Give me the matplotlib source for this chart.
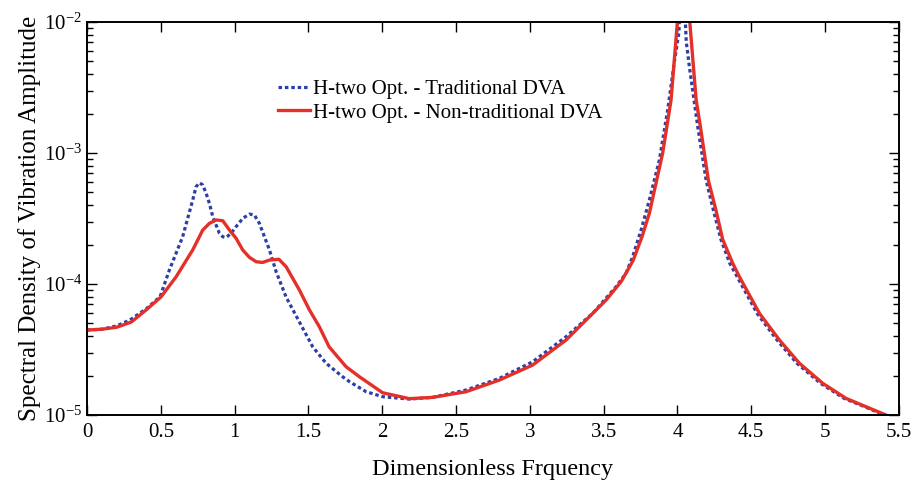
import numpy as np
import matplotlib
matplotlib.use("Agg")
from matplotlib import pyplot as plt
from matplotlib.ticker import LogLocator

plt.rcParams['font.family'] = ['Liberation Serif', 'DejaVu Serif']
plt.rcParams['mathtext.fontset'] = 'stix'

# H-two optimised, traditional DVA (log10 of amplitude)
freq_trad = [0.00, 0.10, 0.20, 0.29, 0.40, 0.495, 0.558, 0.648, 0.716, 0.739,
             0.762, 0.784, 0.807, 0.829, 0.852, 0.897, 0.92, 0.942, 0.976, 1.01,
             1.055, 1.10, 1.134, 1.168, 1.202, 1.236, 1.281, 1.349, 1.439, 1.529,
             1.62, 1.732, 1.778, 1.891, 2.003, 2.184, 2.342, 2.568, 2.794, 3.02,
             3.246, 3.426, 3.585, 3.652, 3.697, 3.754, 3.81, 3.878, 3.934, 3.98,
             4.01, 4.034, 4.06, 4.081, 4.138, 4.195, 4.245, 4.295, 4.355, 4.405,
             4.54, 4.675, 4.81, 4.97, 5.13, 5.27, 5.40, 5.45]
log_trad = [-4.351, -4.345, -4.32, -4.275, -4.19, -4.097, -3.893, -3.639, -3.359, -3.257,
            -3.227, -3.244, -3.308, -3.384, -3.486, -3.613, -3.639, -3.645, -3.613, -3.562,
            -3.499, -3.466, -3.473, -3.537, -3.639, -3.74, -3.905, -4.10, -4.29, -4.479,
            -4.605, -4.708, -4.745, -4.822, -4.860, -4.878, -4.865, -4.809, -4.72, -4.593,
            -4.402, -4.224, -4.02, -3.918, -3.791, -3.588, -3.359, -3.053, -2.672, -2.30,
            -2.08, -1.5, -2.15, -2.34, -2.80, -3.21, -3.44, -3.66, -3.842, -3.944,
            -4.224, -4.427, -4.605, -4.758, -4.873, -4.937, -5.0, -5.04]

# H-two optimised, non-traditional DVA
freq_nontrad = [0.00, 0.10, 0.20, 0.30, 0.40, 0.50, 0.604, 0.716, 0.784, 0.829,
                0.875, 0.92, 0.965, 1.01, 1.055, 1.10, 1.146, 1.19, 1.236, 1.30,
                1.349, 1.439, 1.507, 1.574, 1.64, 1.755, 1.846, 2.003, 2.184, 2.342,
                2.568, 2.794, 3.02, 3.246, 3.517, 3.62, 3.70, 3.76, 3.81, 3.90,
                3.957, 4.00, 4.042, 4.084, 4.127, 4.156, 4.21, 4.262, 4.307, 4.375,
                4.42, 4.556, 4.691, 4.827, 4.985, 5.143, 5.279, 5.414, 5.45]
log_nontrad = [-4.351, -4.345, -4.33, -4.29, -4.198, -4.10, -3.944, -3.74, -3.588, -3.537,
               -3.511, -3.517, -3.588, -3.651, -3.74, -3.796, -3.83, -3.835, -3.817, -3.811,
               -3.868, -4.046, -4.198, -4.326, -4.479, -4.631, -4.708, -4.830, -4.875, -4.865,
               -4.822, -4.733, -4.618, -4.427, -4.122, -3.98, -3.82, -3.64, -3.46, -3.002,
               -2.595, -2.0, -1.7, -2.0, -2.595, -2.80, -3.21, -3.44, -3.66, -3.842,
               -3.944, -4.224, -4.427, -4.605, -4.758, -4.873, -4.937, -5.0, -5.02]

x_ticks = [0, 0.5, 1, 1.5, 2, 2.5, 3, 3.5, 4, 4.5, 5, 5.5]
x_tick_labels = ['0', '0.5', '1', '1.5', '2', '2.5', '3', '3.5', '4', '4.5', '5', '5.5']

amp_trad = 10.0 ** np.array(log_trad)
amp_nontrad = 10.0 ** np.array(log_nontrad)

fig = plt.figure(figsize=(9.19, 4.86), dpi=100)
ax = fig.add_axes([0.0947, 0.146, 0.8833, 0.8087])

ax.semilogy(freq_trad, amp_trad, color='#2c3fa6', lw=2.3, dashes=(1.1, 0.9),
            label='H-two Opt. - Traditional DVA')
ax.semilogy(freq_nontrad, amp_nontrad, color='#e5302a', lw=2.4,
            solid_joinstyle='round', label='H-two Opt. - Non-traditional DVA')

ax.set_xlim(0, 5.5)
ax.set_ylim(1e-5, 1e-2)
ax.set_xticks(x_ticks, x_tick_labels)
ax.yaxis.set_major_locator(LogLocator(base=10, numticks=10))
ax.yaxis.set_minor_locator(LogLocator(base=10, subs=np.arange(2, 10), numticks=10))

ax.tick_params(which='both', direction='in', top=True, right=True, labelsize=15)
ax.tick_params(which='major', length=7, width=1)
ax.tick_params(which='minor', length=4, width=1)
ax.tick_params(axis='x', which='minor', top=False, bottom=False)
ax.tick_params(axis='x', pad=6)
for s in ax.spines.values():
    s.set_linewidth(1.4)

ax.set_xlabel('Dimensionless Frquency', fontsize=17.5, labelpad=12)
ax.set_ylabel('Spectral Density of Vibration Amplitude', fontsize=18, labelpad=2)

ax.legend(loc='upper left', bbox_to_anchor=(0.212, 0.902), frameon=False,
          fontsize=15, handlelength=1.55, handletextpad=0.15, labelspacing=0.2)

fig.savefig('out.png', dpi=100)
